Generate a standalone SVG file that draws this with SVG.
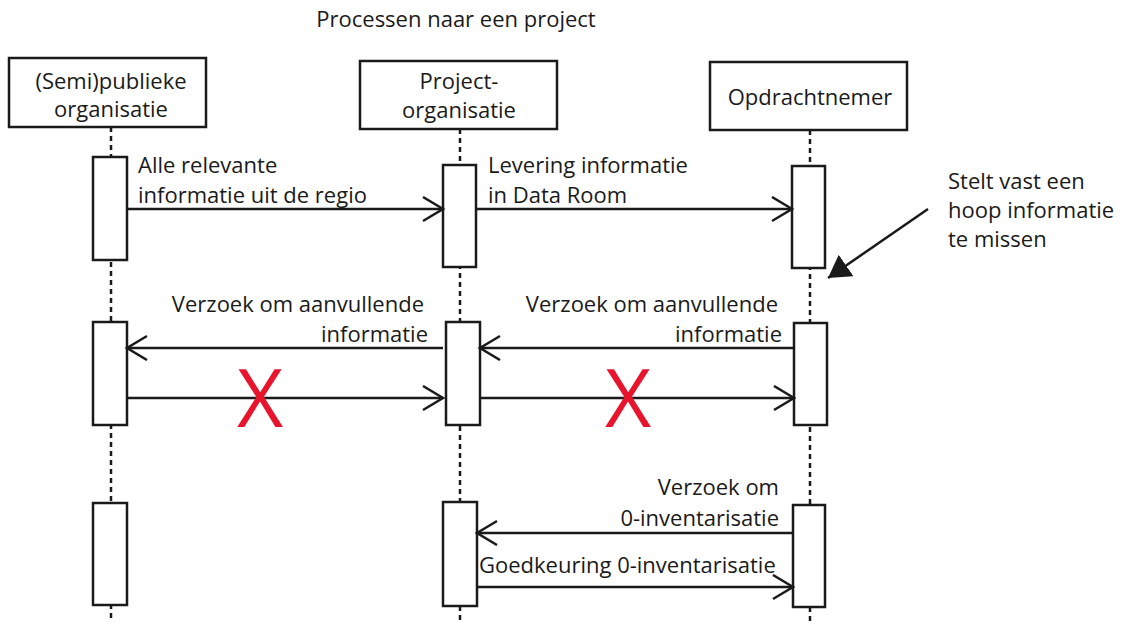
<svg xmlns="http://www.w3.org/2000/svg" width="1123" height="625" viewBox="0 0 1123 625">
  <style>
    text { font-family: "Open Sans", "Liberation Sans", sans-serif; font-size: 22px; fill: #1a1a1a; }
    .mid { text-anchor: middle; }
    .end { text-anchor: end; }
    .actor { fill: #ffffff; stroke: #1a1a1a; stroke-width: 2.5; }
    .act { fill: #ffffff; stroke: #1a1a1a; stroke-width: 2.5; }
    .life { stroke: #1a1a1a; stroke-width: 2.5; stroke-dasharray: 5 4; fill: none; }
    .msg { stroke: #1a1a1a; stroke-width: 2.5; fill: none; }
    .cross { fill: #e8142c; font-size: 80px; }
  </style>
  <defs>
    <marker id="open" markerWidth="24" markerHeight="28" refX="21" refY="13" orient="auto" markerUnits="userSpaceOnUse">
      <path d="M1,1 L21,13 L1,25" fill="none" stroke="#1a1a1a" stroke-width="2.5"/>
    </marker>
    <marker id="solid" markerWidth="30" markerHeight="30" refX="22" refY="13" orient="auto" markerUnits="userSpaceOnUse">
      <path d="M0,0 L22,13 L0,26 Z" fill="#1a1a1a"/>
    </marker>
  </defs>

  <rect width="1123" height="625" fill="#ffffff"/>

  <text class="mid" x="456" y="27">Processen naar een project</text>

  <!-- lifelines -->
  <g id="lifelines">
    <line class="life" x1="111" y1="127" x2="111" y2="622"/>
    <line class="life" x1="460" y1="129" x2="460" y2="622"/>
    <line class="life" x1="810" y1="130" x2="810" y2="622"/>
  </g>

  <!-- actors -->
  <g id="actor-publiek">
    <rect class="actor" x="9" y="58" width="197" height="69"/>
    <text class="mid" x="111" y="89">(Semi)publieke</text>
    <text class="mid" x="111" y="117">organisatie</text>
  </g>
  <g id="actor-project">
    <rect class="actor" x="360" y="61" width="197" height="68"/>
    <text class="mid" x="459" y="89">Project-</text>
    <text class="mid" x="459" y="118">organisatie</text>
  </g>
  <g id="actor-opdrachtnemer">
    <rect class="actor" x="710" y="62" width="197" height="68"/>
    <text class="mid" x="810" y="105">Opdrachtnemer</text>
  </g>

  <!-- activation bars -->
  <g id="activations">
    <rect class="act" x="93" y="157" width="34" height="103"/>
    <rect class="act" x="443" y="165" width="33" height="102"/>
    <rect class="act" x="792" y="166" width="33" height="102"/>

    <rect class="act" x="93" y="322" width="34" height="103"/>
    <rect class="act" x="446" y="322" width="34" height="103"/>
    <rect class="act" x="794" y="323" width="33" height="102"/>

    <rect class="act" x="93" y="503" width="34" height="102"/>
    <rect class="act" x="443" y="502" width="34" height="104"/>
    <rect class="act" x="793" y="505" width="32" height="102"/>
  </g>

  <!-- messages -->
  <g id="connectors">
    <line class="msg" x1="127" y1="209" x2="443" y2="209" marker-end="url(#open)"/>
    <line class="msg" x1="476" y1="209" x2="792" y2="209" marker-end="url(#open)"/>

    <line class="msg" x1="443" y1="348" x2="127" y2="348" marker-end="url(#open)"/>
    <line class="msg" x1="127" y1="398" x2="443" y2="398" marker-end="url(#open)"/>
    <line class="msg" x1="794" y1="348" x2="480" y2="348" marker-end="url(#open)"/>
    <line class="msg" x1="480" y1="398" x2="794" y2="398" marker-end="url(#open)"/>

    <line class="msg" x1="793" y1="533" x2="477" y2="533" marker-end="url(#open)"/>
    <line class="msg" x1="477" y1="587" x2="793" y2="587" marker-end="url(#open)"/>

    <line class="msg" x1="928" y1="209" x2="828" y2="278" marker-end="url(#solid)"/>
  </g>

  <!-- message labels -->
  <g id="labels">
    <text x="138" y="173">Alle relevante</text>
    <text x="138" y="203">informatie uit de regio</text>
    <text x="488" y="173">Levering informatie</text>
    <text x="488" y="203">in Data Room</text>

    <text x="948" y="189">Stelt vast een</text>
    <text x="948" y="218">hoop informatie</text>
    <text x="948" y="247">te missen</text>

    <text class="end" x="424" y="312">Verzoek om aanvullende</text>
    <text class="end" x="428" y="342">informatie</text>
    <text class="end" x="778" y="312">Verzoek om aanvullende</text>
    <text class="end" x="782" y="342">informatie</text>

    <text class="end" x="779" y="495">Verzoek om</text>
    <text class="end" x="779" y="526">0-inventarisatie</text>
    <text x="479" y="573">Goedkeuring 0-inventarisatie</text>
  </g>

  <!-- failed replies -->
  <g id="crosses">
    <text class="cross mid" x="260" y="427">X</text>
    <text class="cross mid" x="628" y="427">X</text>
  </g>
</svg>
